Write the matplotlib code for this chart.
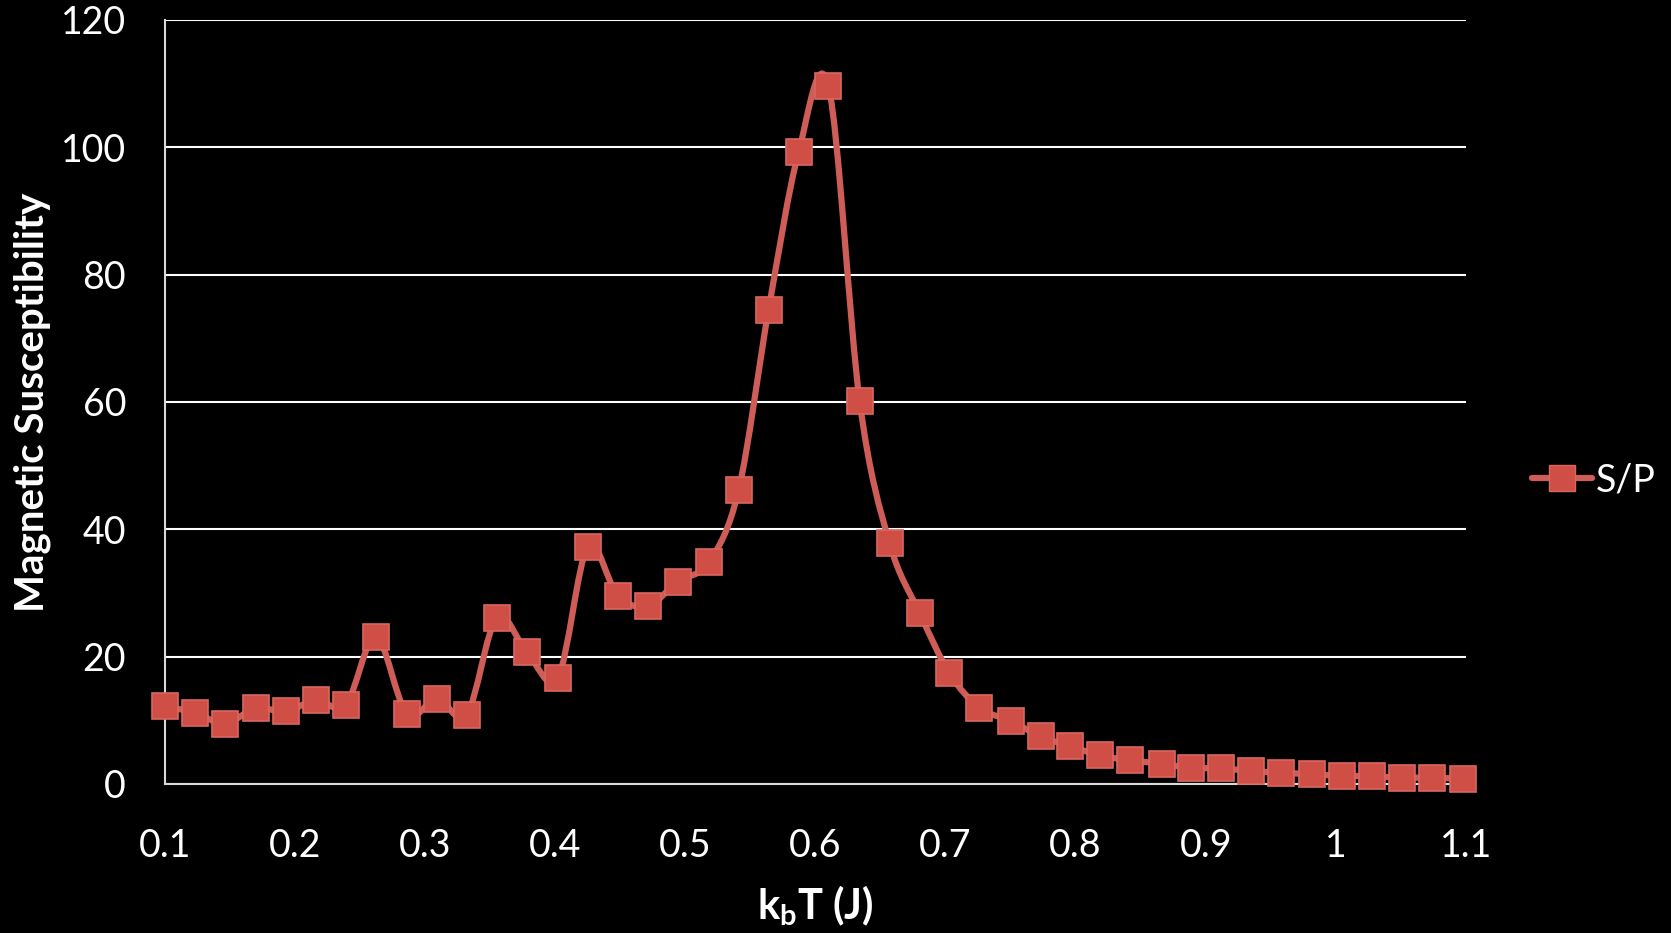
import matplotlib.pyplot as plt
from matplotlib.path import Path
from matplotlib.patches import PathPatch
from matplotlib.lines import Line2D

# data
kT = [0.100, 0.123, 0.146, 0.170, 0.193, 0.216, 0.239, 0.262, 0.286, 0.309,
      0.332, 0.355, 0.378, 0.402, 0.425, 0.448, 0.471, 0.494, 0.518, 0.541,
      0.564, 0.587, 0.610, 0.634, 0.657, 0.680, 0.703, 0.726, 0.750, 0.773,
      0.796, 0.819, 0.842, 0.866, 0.889, 0.912, 0.935, 0.958, 0.982, 1.005,
      1.028, 1.051, 1.074, 1.098]
chi = [12.2, 11.2, 9.5, 11.9, 11.4, 13.2, 12.4, 23.1, 11.0, 13.4,
       10.9, 26.1, 20.8, 16.7, 37.2, 29.6, 27.9, 31.8, 34.8, 46.2,
       74.5, 99.2, 109.6, 60.1, 37.8, 26.9, 17.4, 12.0, 9.9, 7.5,
       5.9, 4.5, 3.7, 3.2, 2.5, 2.5, 2.0, 1.8, 1.5, 1.3,
       1.2, 1.0, 1.0, 0.8]
yticks = [0, 20, 40, 60, 80, 100, 120]
xticks = [0.1, 0.2, 0.3, 0.4, 0.5, 0.6, 0.7, 0.8, 0.9, 1, 1.1]
xticklabels = ["0.1", "0.2", "0.3", "0.4", "0.5", "0.6", "0.7", "0.8", "0.9", "1", "1.1"]

line_col = "#CD5D56"
mk_col = "#CF4E46"
mk_edge = "#D8675F"

plt.rcParams['font.family'] = ['Lato', 'DejaVu Sans']
plt.rcParams['mathtext.fontset'] = 'custom'
plt.rcParams['mathtext.rm'] = 'Lato:bold'
plt.rcParams['mathtext.it'] = 'Lato:bold'
plt.rcParams['mathtext.bf'] = 'Lato:bold'

fig = plt.figure(figsize=(16.71, 9.33), dpi=100, facecolor='black')
ax = fig.add_axes([0.0987, 0.1597, 0.7786, 0.8189])
ax.set_facecolor('black')

# smoothed line like excel: cubic bezier through the points (catmull-rom controls)
pts = list(zip(kT, chi))
n = len(pts)
verts = [pts[0]]
codes = [Path.MOVETO]
for i in range(n - 1):
    p0 = pts[i - 1] if i > 0 else pts[i]
    p1 = pts[i]
    p2 = pts[i + 1]
    p3 = pts[i + 2] if i + 2 < n else pts[i + 1]
    c1 = (p1[0] + (p2[0] - p0[0]) / 6, p1[1] + (p2[1] - p0[1]) / 6)
    c2 = (p2[0] - (p3[0] - p1[0]) / 6, p2[1] - (p3[1] - p1[1]) / 6)
    verts += [c1, c2, p2]
    codes += [Path.CURVE4] * 3
ax.add_patch(PathPatch(Path(verts, codes), facecolor='none', edgecolor=line_col,
                       lw=4.5, capstyle='round', joinstyle='round', zorder=3, clip_on=False))
ax.plot(kT, chi, ls='none', marker='s', ms=19, mfc=mk_col, mec=mk_edge, mew=1.2,
        zorder=4, clip_on=False)

ax.set_xlim(0.1, 1.1)
ax.set_ylim(0, 120)
ax.set_xticks(xticks)
ax.set_xticklabels(xticklabels)
ax.set_yticks(yticks)
ax.tick_params(axis='both', length=0, colors='white', labelsize=27)
ax.tick_params(axis='x', pad=32)
ax.tick_params(axis='y', pad=28)
ax.grid(axis='y', color='white', lw=1.5)
ax.set_axisbelow(True)
for s in ['top', 'right']:
    ax.spines[s].set_visible(False)
for s in ['left', 'bottom']:
    ax.spines[s].set_color('#D9D9D9')
    ax.spines[s].set_linewidth(1.5)

ax.set_ylabel("Magnetic Susceptibility", color='white', fontsize=29, fontweight='bold', va='center')
ax.yaxis.set_label_coords(-0.102, 0.5)
ax.set_xlabel(r"k$_\mathrm{b}$T (J)", color='white', fontsize=30, fontweight='bold', va='center')
ax.xaxis.set_label_coords(0.5, -0.16)

h = Line2D([], [], color=line_col, lw=4.5, solid_capstyle='round', marker='s', ms=19,
           mfc=mk_col, mec=mk_edge)
leg = fig.legend([h], ["S/P"], loc='center left', bbox_to_anchor=(0.917, 0.485),
                 frameon=False, fontsize=27, handlelength=1.6, handletextpad=0.1,
                 borderaxespad=0, borderpad=0)
for t in leg.get_texts():
    t.set_color('white')

fig.savefig("out.png", dpi=100, facecolor='black')
